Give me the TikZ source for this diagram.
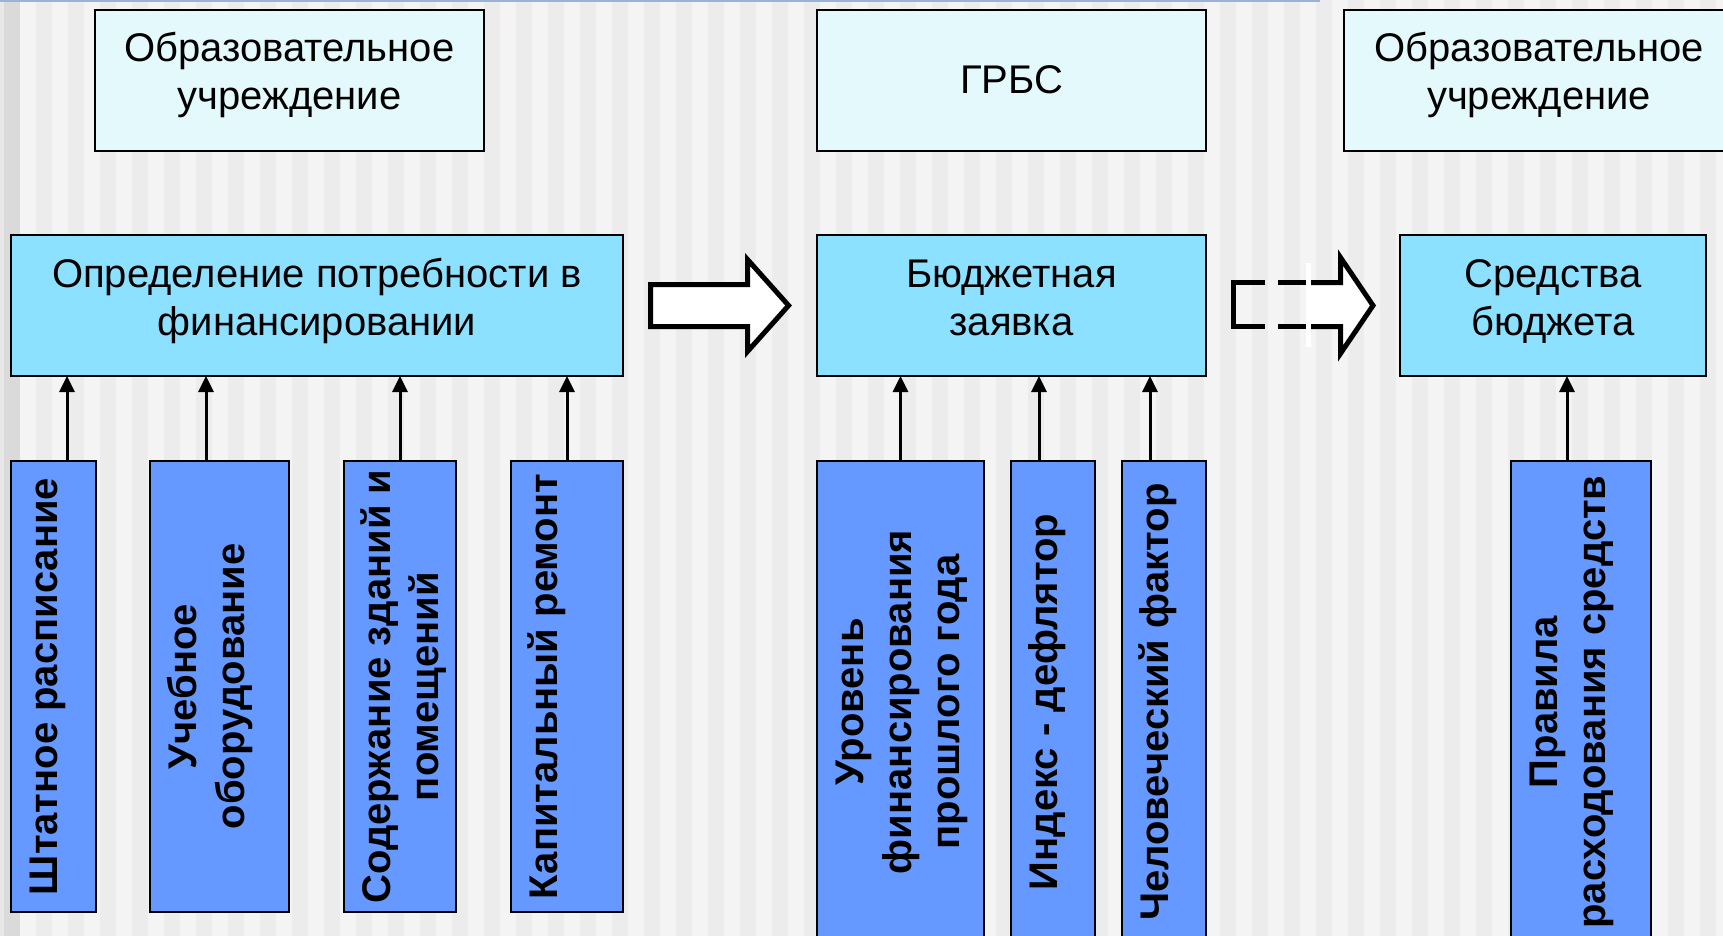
\documentclass[tikz,border=0pt]{standalone}
\usepackage{fontspec}
\setmainfont{Liberation Sans}
\usetikzlibrary{arrows.meta,calc}
\definecolor{stripeA}{HTML}{F4F4F4}
\definecolor{stripeB}{HTML}{ECECEC}
\definecolor{edgeA}{HTML}{E8E8E8}
\definecolor{edgeB}{HTML}{DADADA}
\definecolor{topline}{HTML}{9AB3D5}
\definecolor{topfill}{HTML}{E4F9FB}
\definecolor{midfill}{HTML}{8BE1FF}
\definecolor{botfill}{HTML}{6699FF}
\newcommand\mystrut{\rule[-4pt]{0pt}{22pt}}
\newcommand\dep[1]{\rule[-#1]{0pt}{#1}}
\begin{document}
\begin{tikzpicture}[x=0.5pt,y=-0.5pt,
  box/.style={draw=black,line width=1pt,inner sep=0pt,outer sep=0pt,align=center,font=\fontsize{20}{24}\selectfont},
  topbox/.style={box,fill=topfill,minimum height=70.5pt},
  midbox/.style={box,fill=midfill,minimum height=70.5pt},
  botbox/.style={box,fill=botfill,rotate=90,font=\fontsize{20}{24}\selectfont\bfseries},
  conn/.style={line width=1.5pt,-{Triangle[length=8pt,width=7.5pt]}},
  blockarrow/.style={line width=2.5pt,line join=miter,miter limit=10},
]
\useasboundingbox (0,0) rectangle (1723,936);
% background stripes
\fill[stripeA] (0,0) rectangle (1723,936);
\foreach \i in {0,...,53} {\fill[stripeB] ({36+32*\i},0) rectangle ({52+32*\i},936);}
\fill[edgeA] (0,0) rectangle (4,936);
\fill[edgeB] (4,0) rectangle (20,936);
\fill[topline] (0,0) rectangle (1320,2);

% top row
\node[topbox,minimum width=194.5pt] (ou1) at (289.5,80.5) {\mystrut Образовательное\\\mystrut учреждение\dep{12.5pt}};
\node[topbox,minimum width=194.5pt] (grbs) at (1011.5,80.5) {\mystrut ГРБС\dep{4.5pt}};
\node[topbox,minimum width=195pt] (ou2) at (1539,80.5) {\mystrut Образовательное\\\mystrut учреждение\dep{12.5pt}};

% middle row
\node[midbox,minimum width=306pt] (opr) at (317,305.5) {\mystrut Определение потребности в\\\mystrut финансировании\dep{12.5pt}};
\node[midbox,minimum width=194.5pt] (zay) at (1011.5,305.5) {\mystrut Бюджетная\\\mystrut заявка\dep{12.5pt}};
\node[midbox,minimum width=153pt] (sb) at (1553,305.5) {\mystrut Средства\\\mystrut бюджета\dep{12.5pt}};

% bottom row
\node[botbox,minimum width=225.5pt,minimum height=42.5pt] (b1) at (53.5,686.5) {\mystrut Штатное расписание\dep{14.5pt}};
\node[botbox,minimum width=225.5pt,minimum height=69.5pt] (b2) at (219.5,686.5) {\mystrut Учебное\\\mystrut оборудование\dep{17.5pt}};
\node[botbox,minimum width=225.5pt,minimum height=56pt] (b3) at (400,686.5) {\mystrut Содержание зданий и\\\mystrut помещений\dep{4pt}};
\node[botbox,minimum width=225.5pt,minimum height=56pt] (b4) at (567,686.5) {\mystrut Капитальный ремонт\dep{28pt}};
\node[botbox,minimum width=241pt,minimum height=83.5pt] (b5) at (900.5,702) {\mystrut Уровень\\\mystrut финансирования\\\mystrut прошлого года\dep{7.5pt}};
\node[botbox,minimum width=241pt,minimum height=42pt] (b6) at (1053,702) {\mystrut Индекс - дефлятор\dep{14pt}};
\node[botbox,minimum width=241pt,minimum height=42pt] (b7) at (1164,702) {\mystrut Человеческий фактор\dep{14pt}};
\node[botbox,minimum width=241pt,minimum height=70pt] (b8) at (1581,702) {\mystrut Правила\\\mystrut расходования средств\dep{18pt}};

% connectors
\draw[conn] (b1.east) ++(13.5,0) coordinate (t1) -- (t1 |- opr.south);
\draw[conn] (b2.east) ++(-13.5,0) coordinate (t2) -- (t2 |- opr.south);
\draw[conn] (b3.east) -- (b3.east |- opr.south);
\draw[conn] (b4.east) -- (b4.east |- opr.south);
\draw[conn] (b5.east) -- (b5.east |- zay.south);
\draw[conn] (b6.east) ++(-14,0) coordinate (t6) -- (t6 |- zay.south);
\draw[conn] (b7.east) ++(-14,0) coordinate (t7) -- (t7 |- zay.south);
\draw[conn] (b8.east) ++(-14,0) coordinate (t8) -- (t8 |- sb.south);

% block arrow 1
\draw[blockarrow,fill=white] (650.5,284.5) -- (747.5,284.5) -- (747.5,259.5) -- (788.6,305.5) -- (747.5,351.5) -- (747.5,326.5) -- (650.5,326.5) -- cycle;

% block arrow 2 (dashed)
\fill[white] (1306,282.5) -- (1340.5,282.5) -- (1340.5,257.5) -- (1373,305.5) -- (1340.5,353.5) -- (1340.5,326.5) -- (1306,326.5) -- cycle;
\draw[blockarrow] (1306,282.5) -- (1340.5,282.5) -- (1340.5,257.5) -- (1373,305.5) -- (1340.5,353.5) -- (1340.5,326.5) -- (1306,326.5);
\draw[blockarrow] (1278,282.5) -- (1306,282.5);
\draw[blockarrow] (1265,282.5) -- (1233.5,282.5) -- (1233.5,326.5) -- (1265,326.5);
\draw[blockarrow] (1278,326.5) -- (1306,326.5);
\fill[white] (1306,263) rectangle (1311,347);
\end{tikzpicture}
\end{document}
